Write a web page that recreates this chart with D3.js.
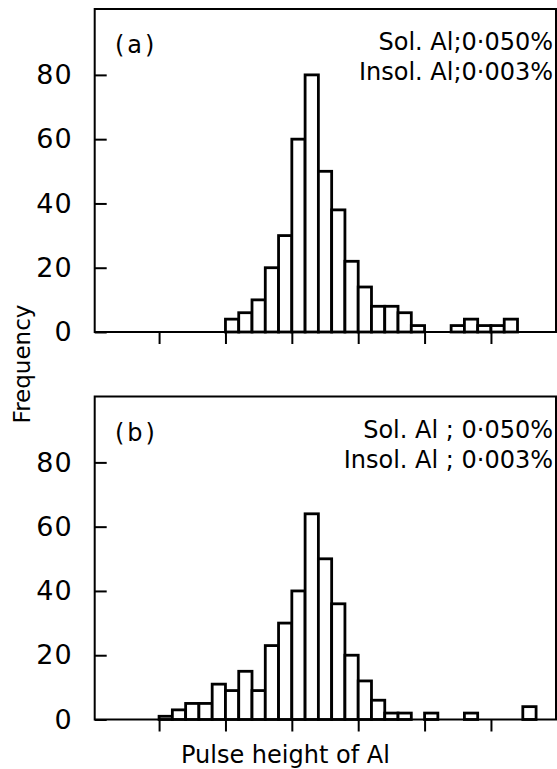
<!DOCTYPE html>
<html>
<head>
<meta charset="utf-8">
<script src="https://cdn.jsdelivr.net/npm/d3@7"></script>
<style>
  html, body { margin: 0; padding: 0; background: #fff; }
  svg text { font-family: "DejaVu Sans", sans-serif; fill: #000; }
</style>
</head>
<body>
<svg id="chart" width="557" height="769"></svg>
<script>
// bin index of each bar (5 bins between major ticks) and its count
const binStartA = [5, 6, 7, 8, 9, 10, 11, 12, 13, 14, 15, 16, 17, 18, 19, 22, 23, 24, 25, 26];
const countA    = [4, 6, 10, 20, 30, 60, 80, 50, 38, 22, 14, 8, 8, 6, 2, 2, 4, 2, 2, 4];
const binStartB = [0, 1, 2, 3, 4, 5, 6, 7, 8, 9, 10, 11, 12, 13, 14, 15, 16, 17, 18, 20, 23, 27.4];
const countB    = [1, 3, 5, 5, 11, 9, 15, 9, 23, 30, 40, 64, 50, 36, 20, 12, 6, 2, 2, 2, 2, 4];
const yTicks = [0, 20, 40, 60, 80];
const xTicks = [0, 5, 10, 15, 20, 25];
const panelLabels = ["(a)", "(b)"];
const solText = ["Sol. Al;0·050%", "Sol. Al ; 0·050%"];
const insolText = ["Insol. Al;0·003%", "Insol. Al ; 0·003%"];

const svg = d3.select("#chart");
const left = 94.7, right = 556, panelH = 323;
const x = d3.scaleLinear().domain([-4.85, 29.9]).range([left, right]);

function drawPanel(top, bins, counts, k) {
    const y = d3.scaleLinear().domain([0, 100.5]).range([top + panelH, top]);
    const g = svg.append("g");
    // bars
    g.selectAll("rect.bar")
        .data(bins.map((b, i) => ({ b: b, c: counts[i] })))
        .join("rect")
        .attr("class", "bar")
        .attr("x", d => x(d.b))
        .attr("y", d => y(d.c))
        .attr("width", d => x(d.b + 1) - x(d.b))
        .attr("height", d => y(0) - y(d.c))
        .attr("fill", "#fff")
        .attr("stroke", "#000")
        .attr("stroke-width", 2.8);
    // frame
    g.append("rect")
        .attr("x", left).attr("y", top)
        .attr("width", right - left).attr("height", panelH)
        .attr("fill", "none").attr("stroke", "#000").attr("stroke-width", 2);
    // y axis ticks (inward)
    const yAxis = d3.axisLeft(y).tickValues(yTicks).tickSizeInner(-12).tickSizeOuter(0).tickPadding(22);
    const ya = g.append("g").attr("transform", `translate(${left},0)`).call(yAxis);
    ya.select(".domain").remove();
    ya.selectAll("line").attr("stroke-width", 2);
    ya.selectAll("text").style("font-size", "27px").style("letter-spacing", "1px");
    // x axis ticks (outward, no labels)
    const xAxis = d3.axisBottom(x).tickValues(xTicks).tickSize(12).tickFormat("");
    const xa = g.append("g").attr("transform", `translate(0,${y(0)})`).call(xAxis);
    xa.select(".domain").remove();
    xa.selectAll("line").attr("stroke-width", 2);
    // texts
    g.append("text").attr("x", 115).attr("y", top + 44).style("font-size", "24px")
        .style("letter-spacing", "3px").text(panelLabels[k]);
    g.append("text").attr("x", 553).attr("y", top + 41).attr("text-anchor", "end")
        .style("font-size", "24px").text(solText[k]);
    g.append("text").attr("x", 553).attr("y", top + 71).attr("text-anchor", "end")
        .style("font-size", "24px").text(insolText[k]);
}

drawPanel(9, binStartA, countA, 0);
drawPanel(396.5, binStartB, countB, 1);

svg.append("text")
    .attr("transform", "translate(30,364) rotate(-90)")
    .attr("text-anchor", "middle")
    .style("font-size", "23px")
    .text("Frequency");
svg.append("text")
    .attr("x", 181).attr("y", 763)
    .style("font-size", "24px")
    .text("Pulse height of Al");
</script>
</body>
</html>
